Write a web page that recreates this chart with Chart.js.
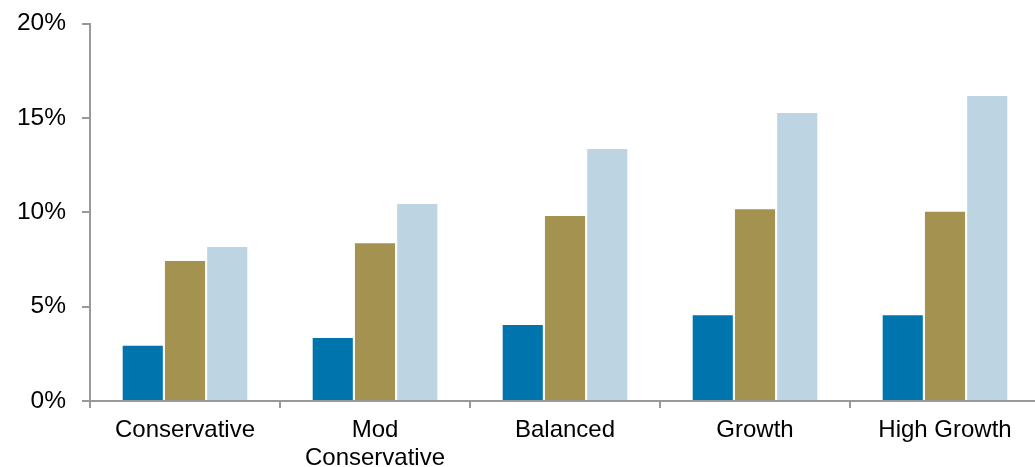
<!DOCTYPE html>
<html>
<head>
<meta charset="utf-8">
<script src="https://cdn.jsdelivr.net/npm/chart.js@4/dist/chart.umd.min.js"></script>
<style>
  html, body { margin: 0; padding: 0; background: #fff; overflow: hidden; }
  #wrap { width: 1040px; height: 467px; position: relative; }
</style>
</head>
<body>
<div id="wrap"><canvas id="c" width="1040" height="467"></canvas></div>
<script>
// Portfolio categories along the x axis
const categories = ['Conservative', ['Mod', 'Conservative'], 'Balanced', 'Growth', 'High Growth'];

// Percentage values per series
const series1 = [2.93, 3.34, 4.03, 4.54, 4.54];
const series2 = [7.42, 8.36, 9.80, 10.16, 10.03];
const series3 = [8.16, 10.44, 13.35, 15.26, 16.16];

// Y axis tick values
const yTicks = [0, 5, 10, 15, 20];

const colors = ['#0074AD', '#A49250', '#BDD4E2'];
const axisColor = '#999999';
const family = '"Liberation Sans", Arial, sans-serif';

new Chart(document.getElementById('c'), {
  type: 'bar',
  data: {
    labels: categories,
    datasets: [
      { label: 'Series 1', data: series1, backgroundColor: colors[0] },
      { label: 'Series 2', data: series2, backgroundColor: colors[1] },
      { label: 'Series 3', data: series3, backgroundColor: colors[2] }
    ]
  },
  options: {
    responsive: false,
    animation: false,
    layout: { padding: { top: 23.5, right: 0, bottom: 0, left: 0 } },
    datasets: { bar: { categoryPercentage: 0.667, barPercentage: 0.95 } },
    plugins: { legend: { display: false }, tooltip: { enabled: false } },
    scales: {
      x: {
        grid: { offset: true, drawOnChartArea: false, drawTicks: true, tickLength: 7, color: axisColor, lineWidth: 2 },
        border: { color: axisColor, width: 2 },
        ticks: { color: '#000', font: { family: family, size: 24, lineHeight: 1.14 }, padding: 9, maxRotation: 0, autoSkip: false },
        afterFit: (s) => { s.height = 66; }
      },
      y: {
        min: 0,
        max: 20,
        afterBuildTicks: (s) => { s.ticks = yTicks.map(v => ({ value: v })); },
        grid: { drawOnChartArea: false, drawTicks: true, tickLength: 8, color: axisColor, lineWidth: 2 },
        border: { color: axisColor, width: 2 },
        ticks: { color: '#000', font: { family: family, size: 24.5 }, padding: 16, callback: (v) => v + '%' },
        // fixed axis width; top overhang handled by the layout padding
        afterFit: (s) => { s.width = 90; s.paddingTop = 0; }
      }
    }
  }
});
</script>
</body>
</html>
